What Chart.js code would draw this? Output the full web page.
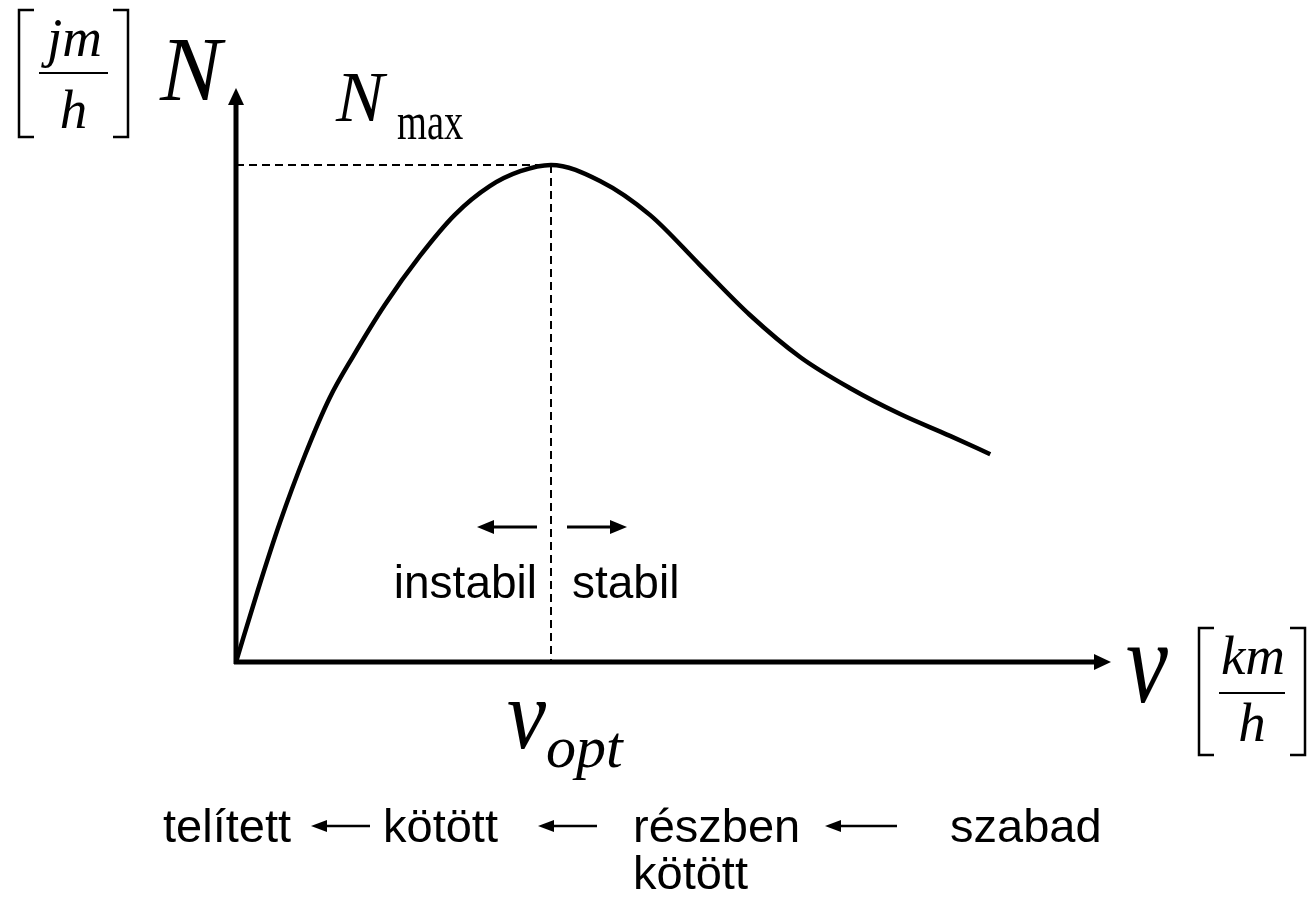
<!DOCTYPE html>
<html>
<head>
<meta charset="utf-8">
<title>N - v</title>
<script src="https://cdn.jsdelivr.net/npm/chart.js@4.4.1/dist/chart.umd.min.js"></script>
<style>
  html, body { margin: 0; padding: 0; background: #ffffff; }
  #myChart { display: block; }
</style>
</head>
<body>
<canvas id="myChart" width="1309" height="902"></canvas>
<script>
// sebesség (km/h) és forgalomnagyság (jm/h) - relatív egységekben
var sebesseg = [0, 2.5, 5.0, 7.9, 10.7, 13.4, 17.0, 21.0, 25.0, 29.0, 32.5, 36.0, 41.6, 47.3, 53.0, 58.7, 64.5, 70.2, 75.9, 81.6, 86.2];
var forgalom = [0, 12.5, 24.2, 36.1, 46.0, 53.3, 62.2, 70.7, 77.9, 82.9, 85.5, 86.6, 83.8, 77.9, 69.2, 60.5, 53.1, 47.7, 43.2, 39.4, 36.2];
var vOpt = 36.0;
var nMax = 86.6;
var tengelyMax = 100;

var serif = '"Liberation Serif", "Times New Roman", serif';
var sans = '"Liberation Sans", Arial, sans-serif';

var pontok = [];
for (var i = 0; i < sebesseg.length; i++) {
    pontok.push({ x: sebesseg[i], y: forgalom[i] });
}

function nyil(ctx, x1, y1, x2, y2, vastag, hossz, szel) {
    var a = Math.atan2(y2 - y1, x2 - x1);
    var bx = x2 - Math.cos(a) * hossz;
    var by = y2 - Math.sin(a) * hossz;
    ctx.save();
    ctx.strokeStyle = '#000';
    ctx.fillStyle = '#000';
    ctx.lineWidth = vastag;
    ctx.lineCap = 'butt';
    ctx.beginPath();
    ctx.moveTo(x1, y1);
    ctx.lineTo(bx, by);
    ctx.stroke();
    ctx.beginPath();
    ctx.moveTo(x2, y2);
    ctx.lineTo(bx - Math.sin(a) * szel, by + Math.cos(a) * szel);
    ctx.lineTo(bx + Math.sin(a) * szel, by - Math.cos(a) * szel);
    ctx.closePath();
    ctx.fill();
    ctx.restore();
}

function szoveg(ctx, txt, x, y, font, sx) {
    ctx.save();
    ctx.font = font;
    ctx.fillStyle = '#000';
    ctx.textBaseline = 'alphabetic';
    ctx.textAlign = 'left';
    ctx.translate(x, y);
    ctx.scale(sx || 1, 1);
    ctx.fillText(txt, 0, 0);
    ctx.restore();
}

function kozepre(ctx, txt, cx, y, font) {
    ctx.save();
    ctx.font = font;
    ctx.fillStyle = '#000';
    ctx.textAlign = 'center';
    ctx.fillText(txt, cx, y);
    ctx.restore();
}

// mértékegység szögletes zárójelben, tört alakban
function mertekegyseg(ctx, bal, jobb, fent, lent, vonalY, szamlalo, nevezo, szY, nY) {
    var cx = (bal + jobb) / 2;
    ctx.save();
    ctx.strokeStyle = '#000';
    ctx.lineWidth = 2.5;
    ctx.beginPath();
    ctx.moveTo(bal + 15, fent);
    ctx.lineTo(bal, fent);
    ctx.lineTo(bal, lent);
    ctx.lineTo(bal + 15, lent);
    ctx.moveTo(jobb - 15, fent);
    ctx.lineTo(jobb, fent);
    ctx.lineTo(jobb, lent);
    ctx.lineTo(jobb - 15, lent);
    ctx.stroke();
    ctx.lineWidth = 2;
    ctx.beginPath();
    ctx.moveTo(bal + 20, vonalY);
    ctx.lineTo(jobb - 20, vonalY);
    ctx.stroke();
    ctx.restore();
    kozepre(ctx, szamlalo, cx + 1, szY, 'italic 55px ' + serif);
    kozepre(ctx, nevezo, cx, nY, 'italic 55px ' + serif);
}

var tengelyek = {
    id: 'tengelyek',
    beforeDatasetsDraw: function(chart) {
        var ctx = chart.ctx;
        var xs = chart.scales.x;
        var ys = chart.scales.y;
        var x0 = xs.getPixelForValue(0);
        var y0 = ys.getPixelForValue(0);
        var xOpt = xs.getPixelForValue(vOpt);
        var yMax = ys.getPixelForValue(nMax);

        // szaggatott segédvonalak
        ctx.save();
        ctx.strokeStyle = '#000';
        ctx.lineWidth = 2;
        ctx.setLineDash([8, 5]);
        ctx.beginPath();
        ctx.moveTo(x0, yMax);
        ctx.lineTo(xOpt, yMax);
        ctx.moveTo(xOpt, yMax);
        ctx.lineTo(xOpt, y0);
        ctx.stroke();
        ctx.restore();

        // tengelyek nyíllal
        nyil(ctx, x0, y0 + 2, x0, ys.getPixelForValue(tengelyMax), 5, 17, 8);
        nyil(ctx, x0 - 2, y0, xs.getPixelForValue(tengelyMax), y0, 5, 17, 8);
    },
    afterDraw: function(chart) {
        var ctx = chart.ctx;
        var xOpt = chart.scales.x.getPixelForValue(vOpt);

        mertekegyseg(ctx, 19, 128, 10, 137, 73, 'jm', 'h', 56, 128);
        szoveg(ctx, 'N', 160, 100, 'italic 92px ' + serif);

        szoveg(ctx, 'N', 336, 121, 'italic 72px ' + serif);
        szoveg(ctx, 'max', 397, 139, '52px ' + serif, 0.74);

        szoveg(ctx, 'v', 1126, 702, 'italic 118px ' + serif, 0.8);
        mertekegyseg(ctx, 1199, 1305, 628, 755, 693, 'km', 'h', 674, 741);

        szoveg(ctx, 'v', xOpt - 44, 748, 'italic 100px ' + serif, 0.88);
        szoveg(ctx, 'opt', xOpt - 5, 767, 'italic 60px ' + serif);

        // stabilitás
        nyil(ctx, xOpt - 14, 527, xOpt - 74, 527, 3, 17, 7);
        nyil(ctx, xOpt + 16, 527, xOpt + 76, 527, 3, 17, 7);
        ctx.save();
        ctx.font = '46px ' + sans;
        ctx.fillStyle = '#000';
        ctx.textAlign = 'right';
        ctx.fillText('instabil', xOpt - 14, 598);
        ctx.textAlign = 'left';
        ctx.fillText('stabil', xOpt + 21, 598);
        ctx.restore();

        // forgalmi állapotok
        var f = '47px ' + sans;
        szoveg(ctx, 'telített', 163, 842, f);
        nyil(ctx, 370, 826, 311, 826, 2.5, 16, 6);
        szoveg(ctx, 'kötött', 383, 842, f);
        nyil(ctx, 597, 826, 538, 826, 2.5, 16, 6);
        szoveg(ctx, 'részben', 633, 842, f);
        szoveg(ctx, 'kötött', 633, 889, f);
        nyil(ctx, 897, 826, 825, 826, 2.5, 16, 6);
        szoveg(ctx, 'szabad', 950, 842, f);
    }
};

var ctx = document.getElementById('myChart');
var myChart = new Chart(ctx, {
    type: 'line',
    data: {
        datasets: [{
            label: 'N',
            data: pontok,
            borderColor: '#000',
            borderWidth: 4.5,
            pointRadius: 0,
            fill: false,
            cubicInterpolationMode: 'monotone',
            clip: false
        }]
    },
    options: {
        responsive: false,
        animation: false,
        layout: {
            padding: { left: 236, right: 198, top: 88, bottom: 240 }
        },
        scales: {
            x: { type: 'linear', min: 0, max: tengelyMax, display: false },
            y: { type: 'linear', min: 0, max: tengelyMax, display: false }
        },
        plugins: {
            legend: { display: false },
            tooltip: { enabled: false }
        }
    },
    plugins: [tengelyek]
});
</script>
</body>
</html>
